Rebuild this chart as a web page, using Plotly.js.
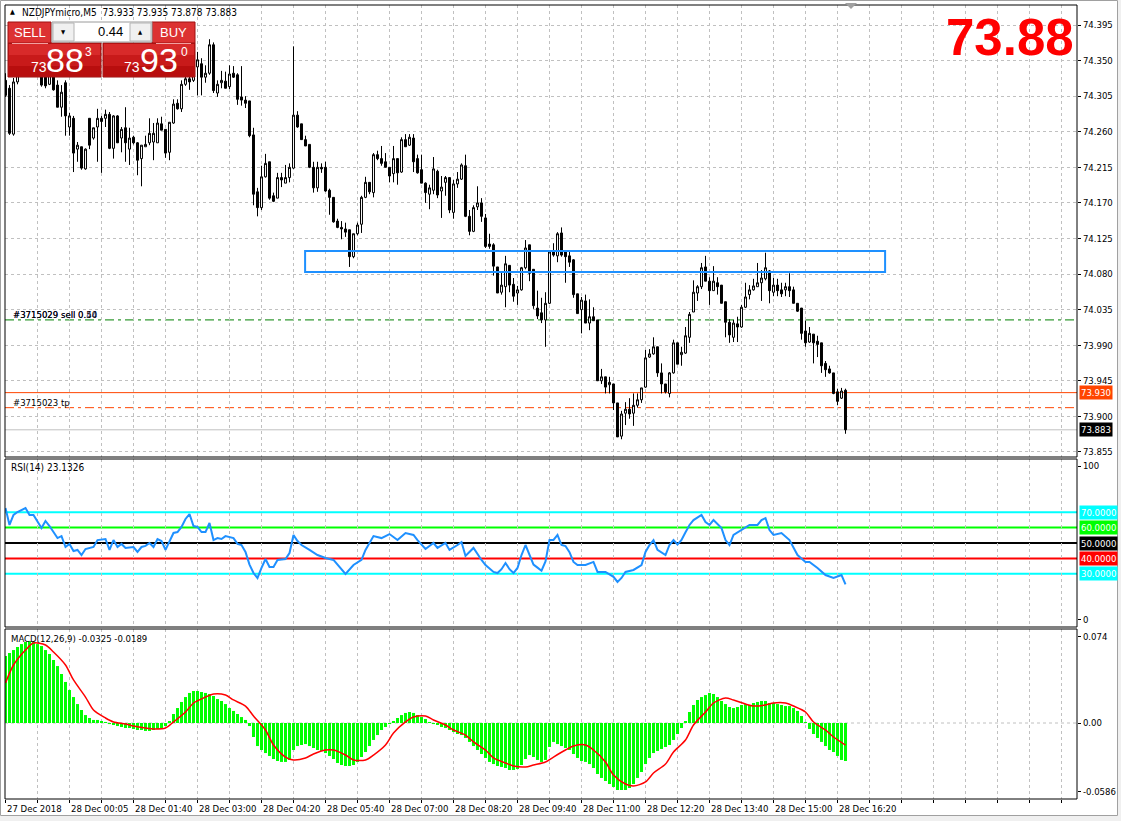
<!DOCTYPE html>
<html><head><meta charset="utf-8">
<script src="https://cdn.plot.ly/plotly-3.0.1.min.js"></script>
<style>html,body{margin:0;padding:0;background:#fff;overflow:hidden}#chart{width:1121px;height:821px}</style>
</head><body><div id="chart"></div>
<script>
// ---------- DATA ----------
const symbolTitle = 'NZDJPYmicro,M5';
const lastOHLC = ['73.933', '73.935', '73.878', '73.883'];

const openP = [74.325,74.315,74.257,74.323,74.340,74.357,74.342,74.363,74.348,74.357,
74.335,74.320,74.338,74.319,74.291,74.322,74.266,74.277,74.238,74.241,
74.213,74.277,74.252,74.266,74.277,74.277,74.282,74.239,74.280,74.252,
74.265,74.238,74.253,74.246,74.226,74.241,74.246,74.247,74.246,74.270,
74.263,74.234,74.271,74.296,74.289,74.320,74.327,74.325,74.342,74.346,
74.329,74.334,74.370,74.309,74.322,74.324,74.317,74.334,74.332,74.304,
74.300,74.299,74.256,74.184,74.164,74.203,74.222,74.179,74.176,74.202,
74.195,74.202,74.214,74.281,74.270,74.250,74.244,74.215,74.189,74.215,
74.215,74.186,74.177,74.147,74.139,74.137,74.136,74.102,74.131,74.143,
74.177,74.196,74.183,74.231,74.226,74.222,74.215,74.207,74.226,74.209,
74.250,74.243,74.252,74.226,74.212,74.195,74.181,74.186,74.210,74.185,
74.196,74.202,74.158,74.194,74.200,74.217,74.153,74.134,74.165,74.170,
74.151,74.118,74.117,74.089,74.057,74.064,74.091,74.067,74.056,74.060,
74.088,74.117,74.086,74.037,74.031,74.022,74.043,74.108,74.103,74.132,
74.109,74.103,74.098,74.055,74.035,74.046,74.018,74.026,74.022,73.945,
73.950,73.940,73.941,73.917,73.875,73.904,73.909,73.904,73.914,73.921,
73.937,73.975,73.979,73.988,73.955,73.941,73.929,73.955,73.993,73.978,
73.980,74.000,74.032,74.056,74.064,74.089,74.071,74.059,74.069,74.066,
74.045,74.019,74.000,74.017,74.013,74.038,74.054,74.060,74.064,74.069,
74.074,74.084,74.057,74.066,74.060,74.060,74.064,74.060,74.043,74.037,
74.008,73.994,74.004,73.995,73.993,73.967,73.960,73.955,73.931,73.923,
73.933];
const highP = [74.334,74.319,74.328,74.345,74.366,74.370,74.373,74.371,74.363,74.360,
74.343,74.348,74.344,74.325,74.319,74.325,74.284,74.280,74.247,74.241,
74.239,74.277,74.265,74.289,74.280,74.288,74.285,74.281,74.281,74.266,
74.291,74.265,74.255,74.247,74.243,74.255,74.277,74.271,74.277,74.279,
74.263,74.272,74.301,74.301,74.325,74.330,74.338,74.351,74.361,74.353,
74.344,74.377,74.373,74.325,74.337,74.336,74.344,74.343,74.334,74.343,
74.305,74.299,74.265,74.189,74.217,74.232,74.222,74.183,74.208,74.208,
74.218,74.220,74.368,74.286,74.270,74.255,74.244,74.222,74.222,74.220,
74.222,74.188,74.177,74.150,74.147,74.145,74.136,74.131,74.145,74.179,
74.203,74.196,74.233,74.236,74.242,74.233,74.215,74.242,74.226,74.253,
74.257,74.257,74.257,74.231,74.231,74.196,74.193,74.228,74.212,74.204,
74.204,74.202,74.199,74.209,74.220,74.231,74.161,74.167,74.191,74.176,
74.156,74.131,74.119,74.089,74.083,74.103,74.091,74.075,74.065,74.089,
74.123,74.117,74.086,74.059,74.050,74.057,74.108,74.119,74.133,74.139,
74.109,74.110,74.099,74.055,74.051,74.054,74.048,74.038,74.022,73.960,
73.950,73.950,73.941,73.917,73.907,73.918,73.923,73.929,73.929,73.936,
73.984,73.985,74.000,73.988,73.967,73.941,73.956,73.997,73.993,73.988,
74.013,74.032,74.072,74.066,74.094,74.103,74.076,74.090,74.076,74.066,
74.045,74.023,74.022,74.026,74.041,74.069,74.066,74.074,74.094,74.085,
74.107,74.085,74.075,74.074,74.069,74.069,74.081,74.064,74.043,74.037,
74.021,74.013,74.004,74.002,73.993,73.970,73.964,73.955,73.935,73.936,
73.935];
const lowP = [74.304,74.256,74.255,74.320,74.335,74.338,74.336,74.338,74.333,74.317,
74.315,74.319,74.312,74.291,74.279,74.255,74.255,74.209,74.222,74.212,
74.212,74.238,74.250,74.222,74.208,74.266,74.238,74.226,74.246,74.234,
74.222,74.218,74.244,74.205,74.191,74.241,74.243,74.224,74.246,74.262,
74.227,74.224,74.270,74.288,74.285,74.318,74.313,74.323,74.306,74.306,
74.322,74.332,74.309,74.304,74.315,74.315,74.314,74.328,74.294,74.293,
74.290,74.253,74.167,74.153,74.161,74.202,74.174,74.171,74.176,74.190,
74.195,74.196,74.213,74.265,74.250,74.242,74.214,74.183,74.184,74.208,
74.184,74.155,74.145,74.138,74.124,74.127,74.089,74.100,74.129,74.132,
74.176,74.181,74.177,74.224,74.217,74.215,74.196,74.196,74.193,74.208,
74.241,74.242,74.209,74.207,74.195,74.170,74.162,74.181,74.176,74.151,
74.179,74.157,74.150,74.189,74.199,74.152,74.129,74.133,74.161,74.146,
74.113,74.112,74.078,74.056,74.054,74.038,74.057,74.045,74.041,74.059,
74.086,74.071,74.036,74.023,74.018,73.988,74.042,74.102,74.095,74.102,
74.069,74.089,74.050,74.030,74.005,74.018,74.009,74.021,73.945,73.941,
73.929,73.929,73.908,73.874,73.871,73.889,73.897,73.888,73.911,73.917,
73.936,73.974,73.978,73.950,73.929,73.929,73.924,73.954,73.966,73.964,
73.979,73.993,74.032,74.046,74.061,74.071,74.041,74.059,74.054,74.043,
74.000,73.993,73.994,73.994,74.012,74.037,74.048,74.059,74.064,74.046,
74.072,74.043,74.052,74.052,74.051,74.052,74.051,74.043,74.032,73.997,
73.988,73.993,73.967,73.975,73.955,73.950,73.954,73.928,73.914,73.922,
73.878];
const closeP = [74.306,74.258,74.323,74.340,74.357,74.342,74.363,74.348,74.357,74.319,
74.318,74.336,74.313,74.291,74.310,74.280,74.280,74.233,74.243,74.214,
74.238,74.243,74.265,74.277,74.273,74.282,74.239,74.280,74.246,74.263,
74.246,74.252,74.246,74.224,74.243,74.244,74.258,74.258,74.271,74.262,
74.233,74.272,74.295,74.289,74.320,74.327,74.323,74.338,74.351,74.329,
74.334,74.370,74.312,74.320,74.325,74.315,74.333,74.329,74.301,74.300,
74.296,74.255,74.181,74.164,74.203,74.220,74.176,74.172,74.202,74.199,
74.202,74.215,74.281,74.266,74.250,74.242,74.215,74.189,74.215,74.213,
74.185,74.177,74.146,74.139,74.137,74.133,74.102,74.131,74.142,74.177,
74.196,74.184,74.231,74.226,74.220,74.215,74.204,74.226,74.208,74.250,
74.241,74.253,74.222,74.208,74.195,74.183,74.189,74.213,74.180,74.190,
74.202,74.161,74.194,74.200,74.218,74.153,74.134,74.164,74.170,74.153,
74.115,74.115,74.090,74.056,74.066,74.093,74.066,74.052,74.060,74.088,
74.113,74.081,74.040,74.027,74.022,74.043,74.108,74.104,74.131,74.104,
74.102,74.095,74.054,74.030,74.047,74.018,74.026,74.021,73.945,73.950,
73.937,73.943,73.917,73.874,73.903,73.909,73.903,73.914,73.921,73.936,
73.974,73.979,73.988,73.955,73.941,73.931,73.955,73.993,73.966,73.981,
74.002,74.029,74.057,74.064,74.088,74.071,74.059,74.071,74.064,74.043,
74.019,74.003,74.018,74.013,74.038,74.051,74.060,74.065,74.069,74.075,
74.088,74.059,74.066,74.059,74.055,74.064,74.059,74.043,74.033,74.005,
73.993,74.005,73.993,73.991,73.964,73.959,73.955,73.929,73.919,73.932,
73.883];

const rsiIdx = [0,1,2,3,5,6,7,9,10,11,13,14,15,16,17,18,19,20,22,23,25,26,27,28,29,30,32,33,34,35,36,37,38,39,40,41,42,43,44,45,46,47,48,49,50,51,52,53,54,55,57,58,59,60,61,62,63,64,65,66,67,68,70,71,72,73,74,76,78,80,82,85,87,89,90,92,94,96,98,100,102,103,105,107,108,110,111,113,114,115,117,119,120,122,123,124,125,126,127,128,129,130,131,132,133,134,135,136,137,138,139,140,141,142,143,145,147,148,150,152,153,154,155,157,159,160,161,162,163,165,166,167,168,169,170,171,172,174,175,176,177,179,180,181,182,184,185,186,188,189,190,191,192,194,196,198,200,201,203,205,207,209,210];
const rsiVal = [72.7,61.7,68.2,70.1,72.7,68.2,68.2,59.7,64.3,61.0,53.2,54.5,47.4,49.4,44.8,45.5,42.2,46.1,47.4,51.9,52.6,45.5,51.9,47.4,49.4,46.8,47.4,44.2,47.4,48.1,50.0,47.4,52.6,51.3,45.5,50.6,56.5,57.1,60.4,65.6,68.8,61.0,60.4,57.1,57.1,63.0,51.9,53.2,52.6,54.5,53.2,49.4,48.7,44.2,36.0,30.5,27.3,33.8,39.6,34.4,34.4,39.0,39.6,43.5,55.2,51.3,48.7,45.5,42.2,40.3,39.0,29.9,35.7,39.0,45.5,54.5,53.2,55.8,51.9,56.5,55.2,51.9,46.1,50.0,46.8,50.0,45.5,48.7,50.6,41.6,46.8,39.0,35.7,31.2,30.5,33.0,37.0,33.0,30.5,33.8,42.2,48.7,42.0,36.0,34.0,32.0,38.0,51.9,52.0,55.2,48.7,48.0,44.0,37.7,35.7,35.7,37.7,31.2,31.2,28.0,24.7,27.3,31.2,32.5,35.7,44.2,48.7,51.9,45.5,42.2,48.7,51.9,49.0,52.0,57.0,61.7,64.9,68.2,63.6,61.7,64.9,59.7,51.9,48.7,55.2,58.4,59.7,61.7,61.7,64.9,66.2,58.4,55.2,56.5,51.9,42.2,37.7,37.7,33.8,29.2,27.3,29.2,23.1326];
const rsiLevels = [70, 60, 50, 40, 30];
const rsiLevelText = ['70.0000', '60.0000', '50.0000', '40.0000', '30.0000'];

const macdHist = [0.0573,0.0599,0.0624,0.0650,0.0675,0.0693,0.0700,0.0693,0.0675,0.0658,
0.0624,0.0590,0.0539,0.0487,0.0419,0.0351,0.0282,0.0222,0.0162,0.0111,
0.0068,0.0043,0.0026,0.0026,0.0017,0.0009,-0.0009,-0.0017,-0.0026,-0.0034,
-0.0043,-0.0043,-0.0051,-0.0060,-0.0060,-0.0068,-0.0068,-0.0060,-0.0051,-0.0043,
-0.0026,0.0017,0.0077,0.0128,0.0180,0.0222,0.0257,0.0274,0.0274,0.0265,
0.0257,0.0248,0.0231,0.0205,0.0188,0.0162,0.0128,0.0103,0.0077,0.0051,
0.0026,-0.0026,-0.0120,-0.0197,-0.0231,-0.0257,-0.0282,-0.0308,-0.0325,-0.0333,
-0.0333,-0.0316,-0.0231,-0.0197,-0.0188,-0.0180,-0.0197,-0.0214,-0.0231,-0.0239,
-0.0257,-0.0282,-0.0308,-0.0342,-0.0359,-0.0368,-0.0368,-0.0359,-0.0333,-0.0291,
-0.0248,-0.0197,-0.0145,-0.0103,-0.0060,-0.0034,-0.0009,0.0017,0.0043,0.0068,
0.0086,0.0094,0.0086,0.0068,0.0051,0.0034,0.0009,-0.0009,-0.0017,-0.0034,
-0.0043,-0.0060,-0.0077,-0.0094,-0.0103,-0.0128,-0.0162,-0.0197,-0.0231,-0.0265,
-0.0299,-0.0333,-0.0351,-0.0368,-0.0376,-0.0385,-0.0402,-0.0402,-0.0393,-0.0359,
-0.0308,-0.0274,-0.0291,-0.0316,-0.0333,-0.0316,-0.0205,-0.0162,-0.0180,-0.0197,
-0.0214,-0.0231,-0.0265,-0.0299,-0.0325,-0.0333,-0.0351,-0.0385,-0.0436,-0.0470,
-0.0496,-0.0522,-0.0547,-0.0573,-0.0573,-0.0573,-0.0556,-0.0522,-0.0470,-0.0419,
-0.0351,-0.0299,-0.0257,-0.0239,-0.0222,-0.0205,-0.0188,-0.0145,-0.0094,-0.0043,
0.0017,0.0094,0.0154,0.0197,0.0222,0.0239,0.0257,0.0248,0.0222,0.0188,
0.0162,0.0137,0.0128,0.0137,0.0154,0.0162,0.0154,0.0171,0.0180,0.0188,
0.0188,0.0171,0.0171,0.0162,0.0154,0.0145,0.0145,0.0128,0.0103,0.0060,
0.0009,-0.0051,-0.0094,-0.0128,-0.0162,-0.0197,-0.0231,-0.0248,-0.0282,-0.0316,
-0.0325];
const signalIdx = [0,2,5,7,10,12,15,17,20,22,25,27,30,32,35,37,40,42,45,47,50,52,55,57,60,62,65,67,70,72,75,77,80,82,85,87,90,92,95,97,100,102,105,107,110,112,115,117,120,122,125,127,130,132,135,137,140,142,145,147,150,152,155,157,160,162,165,167,170,172,175,177,180,182,185,187,190,192,195,197,200,202,205,207,210];
const signalVal = [0.0342,0.0496,0.0624,0.0684,0.0667,0.0607,0.0496,0.0368,0.0222,0.0111,0.0043,0.0009,-0.0009,-0.0026,-0.0043,-0.0051,-0.0043,0.0009,0.0094,0.0171,0.0222,0.0248,0.0239,0.0197,0.0145,0.0060,-0.0060,-0.0188,-0.0291,-0.0316,-0.0299,-0.0265,-0.0231,-0.0231,-0.0274,-0.0316,-0.0316,-0.0274,-0.0188,-0.0086,0.0009,0.0051,0.0060,0.0026,-0.0017,-0.0060,-0.0103,-0.0162,-0.0231,-0.0299,-0.0342,-0.0368,-0.0376,-0.0359,-0.0333,-0.0291,-0.0231,-0.0197,-0.0188,-0.0231,-0.0333,-0.0445,-0.0522,-0.0539,-0.0504,-0.0428,-0.0351,-0.0248,-0.0145,-0.0017,0.0094,0.0171,0.0214,0.0197,0.0162,0.0145,0.0154,0.0171,0.0171,0.0145,0.0094,0.0009,-0.0060,-0.0120,-0.0189];

const priceTicks = [74.395,74.350,74.305,74.260,74.215,74.170,74.125,74.080,74.035,73.990,73.945,73.900,73.855];
const macdTicks = [0.074, 0, -0.0586];
const macdTickText = ['0.074', '0.00', '-0.0586'];
const timeLabelIdx = [0,16,32,48,64,80,96,112,128,144,160,176,192,208];
const timeLabels = ['27 Dec 2018','28 Dec 00:05','28 Dec 01:40','28 Dec 03:00','28 Dec 04:20','28 Dec 05:40','28 Dec 07:00','28 Dec 08:20','28 Dec 09:40','28 Dec 11:00','28 Dec 12:20','28 Dec 13:40','28 Dec 15:00','28 Dec 16:20'];

const sellOrderPrice = 74.022, sellOrderText = '#3715029 sell 0.50';
const tpPrice = 73.911, tpText = '#3715023 tp';
const askPrice = 73.930, bidPrice = 73.883;
const zoneLow = 74.0826, zoneHigh = 74.1092, zoneStart = 74.9, zoneEnd = 219.9;
const bigPrice = '73.88';
const lotSize = '0.44';
const sellQuote = ['73', '88', '3'];
const buyQuote = ['73', '93', '0'];
const rsiTitle = 'RSI(14) 23.1326';
const macdTitle = 'MACD(12,26,9) -0.0325 -0.0189';

// ---------- LAYOUT HELPERS ----------
const W = 1121, H = 821, ML = 5, MR = 44, MT = 5, MB = 22;
const PW = W - ML - MR, PH = H - MT - MB;
const PX = x => (x - ML) / PW;
const PY = y => 1 - (y - MT) / PH;
const FONT = "'DejaVu Sans Condensed', 'DejaVu Sans', sans-serif";
const FS = 9.5;
const ARIAL = "'Liberation Sans', Arial, sans-serif";

const domMain = [PY(457), 1];
const domRsi = [PY(627), PY(459)];
const domMacd = [0, PY(629)];

const barIdx = openP.map((_, i) => i);
const gridIdx = [];
for (let k = 0; k <= 264; k += 8) gridIdx.push(k);

const traces = [
  {type: 'candlestick', x: barIdx, open: openP, high: highP, low: lowP, close: closeP,
   xaxis: 'x', yaxis: 'y', whiskerwidth: 0,
   increasing: {line: {color: '#000000', width: 1}, fillcolor: '#ffffff'},
   decreasing: {line: {color: '#000000', width: 1}, fillcolor: '#000000'},
   hoverinfo: 'skip', showlegend: false},
  {type: 'scatter', mode: 'lines', x: rsiIdx, y: rsiVal, xaxis: 'x', yaxis: 'y2',
   line: {color: '#1e90ff', width: 2}, hoverinfo: 'skip', showlegend: false},
  {type: 'bar', x: barIdx, y: macdHist, xaxis: 'x', yaxis: 'y3',
   marker: {color: '#00ff00', line: {width: 0}}, width: 0.75, hoverinfo: 'skip', showlegend: false},
  {type: 'scatter', mode: 'lines', x: signalIdx, y: signalVal, xaxis: 'x', yaxis: 'y3',
   line: {color: '#ff0000', width: 1.5, shape: 'spline', smoothing: 0.8}, hoverinfo: 'skip', showlegend: false}
];

const shapes = [];
const annotations = [];
const hline = (yref, y, color, width, dash, layer) => shapes.push({type: 'line', xref: 'paper', x0: 0, x1: 1, yref: yref, y0: y, y1: y, line: {color: color, width: width, dash: dash || 'solid'}, layer: layer || 'below'});

// window frame (outside the chart area)
shapes.push({type: 'rect', xref: 'paper', yref: 'paper', x0: PX(1118), x1: PX(1121), y0: PY(821), y1: PY(0), fillcolor: '#f0f0f0', line: {width: 0}, layer: 'above'});
shapes.push({type: 'rect', xref: 'paper', yref: 'paper', x0: PX(0), x1: PX(1121), y0: PY(821), y1: PY(816), fillcolor: '#f0f0f0', line: {width: 0}, layer: 'above'});
shapes.push({type: 'rect', xref: 'paper', yref: 'paper', x0: PX(0.5), x1: PX(1117.5), y0: PY(815.5), y1: PY(0.5), fillcolor: 'rgba(0,0,0,0)', line: {color: '#a0a0a0', width: 1}, layer: 'above'});

// main chart lines
hline('y', sellOrderPrice, '#008000', 1, '9px,4px,3px,4px');
hline('y', askPrice, '#ff4500', 1, 'solid');
hline('y', tpPrice, '#ff4500', 1, '9px,4px,3px,4px');
hline('y', bidPrice, '#c0c0c0', 1, 'solid');
shapes.push({type: 'rect', xref: 'x', yref: 'y', x0: zoneStart, x1: zoneEnd, y0: zoneLow, y1: zoneHigh,
  line: {color: '#1e90ff', width: 2}, fillcolor: 'rgba(0,0,0,0)', layer: 'above'});

// RSI level lines
const rsiLevelColors = ['#00ffff', '#00ff00', '#000000', '#ff0000', '#00ffff'];
rsiLevels.forEach((v, k) => hline('y2', v, rsiLevelColors[k], 2, 'solid'));
// MACD zero dashed grid
hline('y3', 0, '#c0c0c0', 1, '3px,3px');

// panel borders
[domMain, domRsi, domMacd].forEach(d => shapes.push({type: 'rect', xref: 'paper', yref: 'paper', x0: 0, x1: 1, y0: d[0], y1: d[1], line: {color: '#000000', width: 1}, fillcolor: 'rgba(0,0,0,0)', layer: 'above'}));

// shift marker at top
shapes.push({type: 'path', xref: 'paper', yref: 'paper', path: `M ${PX(845)} ${PY(3)} L ${PX(857)} ${PY(3)} L ${PX(851)} ${PY(9)} Z`, fillcolor: '#a0a0a0', line: {width: 0}, layer: 'above'});

// trading panel
const prect = (x0, y0, x1, y1, fill, line) => shapes.push({type: 'rect', xref: 'paper', yref: 'paper', x0: PX(x0), x1: PX(x1), y0: PY(y1), y1: PY(y0), fillcolor: fill, line: {color: line, width: 1}, layer: 'above'});
prect(8, 43, 101, 77, '#c81a1a', '#9a0d0d');
prect(103, 43, 195, 77, '#c81a1a', '#9a0d0d');
prect(9, 44, 100, 55, '#d82a2a', 'rgba(0,0,0,0)');
prect(104, 44, 194, 55, '#d82a2a', 'rgba(0,0,0,0)');
prect(9, 66, 100, 76, '#b80e0e', 'rgba(0,0,0,0)');
prect(104, 66, 194, 76, '#b80e0e', 'rgba(0,0,0,0)');
prect(8, 22, 51, 43, '#dc3232', '#a01010');
prect(152, 22, 195, 43, '#dc3232', '#a01010');
prect(52, 22, 152, 42, '#ffffff', '#9a9a9a');
prect(53, 23, 74, 41, '#f0f0f0', '#b4b4b4');
prect(130, 23, 151, 41, '#f0f0f0', '#b4b4b4');
shapes.push({type: 'line', xref: 'paper', yref: 'paper', x0: PX(12), x1: PX(48), y0: PY(43.5), y1: PY(43.5), line: {color: '#f2a0a0', width: 1}, layer: 'above'});
shapes.push({type: 'line', xref: 'paper', yref: 'paper', x0: PX(156), x1: PX(191), y0: PY(43.5), y1: PY(43.5), line: {color: '#f2a0a0', width: 1}, layer: 'above'});

const ptext = (x, y, text, opts) => annotations.push(Object.assign({xref: 'paper', yref: 'paper', x: PX(x), y: PY(y), text: text, showarrow: false, xanchor: 'left', yanchor: 'middle', font: {family: FONT, size: FS, color: '#000000'}}, opts || {}));

ptext(8, 12, '▲', {font: {family: FONT, size: 7, color: '#000'}});
ptext(20, 12.5, symbolTitle + '&nbsp; ' + lastOHLC.join(' '), {font: {family: FONT, size: 10, color: '#000'}});
ptext(29.5, 32.5, 'SELL', {xanchor: 'center', font: {family: ARIAL, size: 13, color: '#ffffff'}});
ptext(173.5, 32.5, 'BUY', {xanchor: 'center', font: {family: ARIAL, size: 13, color: '#ffffff'}});
ptext(125, 32, lotSize, {xanchor: 'right', font: {family: ARIAL, size: 13, color: '#000000'}});
ptext(63.5, 32, '▼', {xanchor: 'center', font: {family: FONT, size: 6, color: '#000'}});
ptext(140.5, 32, '▲', {xanchor: 'center', font: {family: FONT, size: 6, color: '#000'}});
ptext(38.5, 67.5, sellQuote[0], {xanchor: 'center', font: {family: ARIAL, size: 14, color: '#fff'}});
ptext(65, 60, sellQuote[1], {xanchor: 'center', font: {family: ARIAL, size: 34, color: '#fff'}});
ptext(88, 52, sellQuote[2], {xanchor: 'center', font: {family: ARIAL, size: 12, color: '#fff'}});
ptext(131.5, 67.5, buyQuote[0], {xanchor: 'center', font: {family: ARIAL, size: 14, color: '#fff'}});
ptext(159, 60, buyQuote[1], {xanchor: 'center', font: {family: ARIAL, size: 34, color: '#fff'}});
ptext(184, 52, buyQuote[2], {xanchor: 'center', font: {family: ARIAL, size: 12, color: '#fff'}});

// big price
ptext(1076, 38, '<b>' + bigPrice + '</b>', {xanchor: 'right', font: {family: ARIAL, size: 51, color: '#ff0000'}});

// order labels
ptext(11, 314, sellOrderText.replace('0.50', '0.44'), {font: {family: FONT, size: FS, color: '#1a1a60'}});
ptext(11, 314, sellOrderText);
ptext(11, 402, tpText);
ptext(9, 467, rsiTitle, {font: {family: FONT, size: 10, color: '#000'}});
ptext(9, 638, macdTitle);

// right side value boxes
const vbox = (yref, y, text, bg) => annotations.push({xref: 'paper', x: PX(1079), xanchor: 'left', yref: yref, y: y, yanchor: 'middle', text: text, showarrow: false, bgcolor: bg, borderpad: 1, font: {family: FONT, size: FS, color: '#ffffff'}});
vbox('y', askPrice, askPrice.toFixed(3), '#ff4500');
vbox('y', bidPrice, bidPrice.toFixed(3), '#000000');
const rsiBoxColors = ['#00ffff', '#00ff00', '#000000', '#ff0000', '#00ffff'];
rsiLevels.forEach((v, k) => vbox('y2', v, rsiLevelText[k], rsiBoxColors[k]));

// time labels
timeLabelIdx.forEach((ix, k) => annotations.push({xref: 'x', x: ix, xanchor: 'left', xshift: -1, yref: 'paper', y: 0, yanchor: 'top', yshift: -2, text: timeLabels[k], showarrow: false, font: {family: FONT, size: FS, color: '#000'}}));

const gridStyle = {showgrid: true, gridcolor: '#c0c0c0', griddash: '3px,3px', gridwidth: 1};
const layout = {
  width: W, height: H,
  margin: {l: ML, r: MR, t: MT, b: MB, pad: 0},
  paper_bgcolor: '#ffffff', plot_bgcolor: 'rgba(0,0,0,0)',
  showlegend: false, hovermode: false, dragmode: false, bargap: 0.25,
  font: {family: FONT, size: FS, color: '#000'},
  xaxis: Object.assign({domain: [0, 1], anchor: 'y3', range: [-0.125, 267.875], tickmode: 'array', tickvals: gridIdx,
    ticktext: gridIdx.map(() => ''), ticks: 'outside', ticklen: 3, tickcolor: '#000', showline: false, zeroline: false,
    rangeslider: {visible: false}, fixedrange: true}, gridStyle),
  yaxis: Object.assign({domain: domMain, anchor: 'x', side: 'right', range: [73.8486, 74.4203], tickmode: 'array',
    tickvals: priceTicks, ticktext: priceTicks.map(v => v.toFixed(3)), ticks: 'outside', ticklen: 3, tickcolor: '#000',
    zeroline: false, showline: false, fixedrange: true, tickfont: {family: FONT, size: FS, color: '#000'}}, gridStyle),
  yaxis2: {domain: domRsi, anchor: 'x', side: 'right', range: [-4.55, 104.55], tickmode: 'array', tickvals: [0, 100],
    ticktext: ['0', '100'], ticks: 'outside', ticklen: 3, tickcolor: '#000', showgrid: false, zeroline: false, fixedrange: true,
    tickfont: {family: FONT, size: FS, color: '#000'}},
  yaxis3: {domain: domMacd, anchor: 'x', side: 'right', range: [-0.0650, 0.0804], tickmode: 'array', tickvals: macdTicks,
    ticktext: macdTickText, ticks: 'outside', ticklen: 3, tickcolor: '#000', showgrid: false, zeroline: false, fixedrange: true,
    tickfont: {family: FONT, size: FS, color: '#000'}},
  shapes: shapes,
  annotations: annotations
};
Plotly.newPlot('chart', traces, layout, {staticPlot: true, displayModeBar: false});
</script></body></html>
